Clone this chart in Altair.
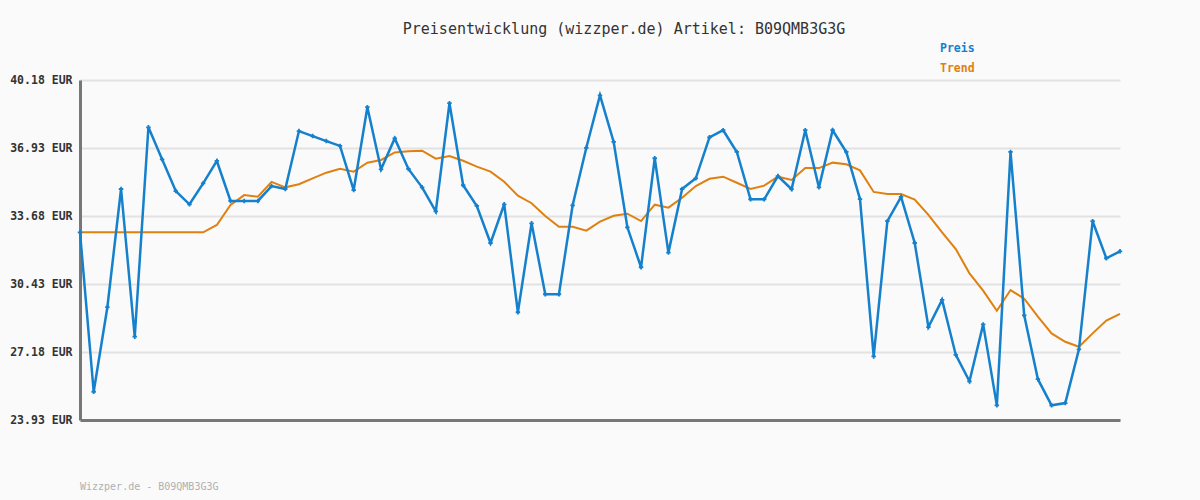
import altair as alt
import pandas as pd

preis = [32.90, 25.28, 29.32, 34.97, 27.91, 37.92, 36.39, 34.87, 34.24, 35.24,
         36.31, 34.40, 34.40, 34.40, 35.11, 34.97, 37.74, 37.50, 37.26, 37.03,
         34.92, 38.88, 35.91, 37.39, 35.93, 35.05, 33.90, 39.07, 35.15, 34.16,
         32.39, 34.24, 29.08, 33.33, 29.94, 29.94, 34.19, 36.94, 39.45, 37.22,
         33.14, 31.23, 36.44, 31.93, 34.97, 35.48, 37.44, 37.78, 36.74, 34.48,
         34.48, 35.59, 34.96, 37.78, 35.05, 37.78, 36.74, 34.49, 26.97, 33.43,
         34.59, 32.39, 28.37, 29.67, 27.04, 25.78, 28.50, 24.63, 36.74, 28.93,
         25.88, 24.63, 24.74, 27.31, 33.43, 31.66, 31.99]
trend = [32.90, 32.90, 32.90, 32.90, 32.90, 32.90, 32.90, 32.90, 32.90, 32.90,
         33.25, 34.21, 34.68, 34.60, 35.31, 35.05, 35.20, 35.48, 35.75, 35.94,
         35.80, 36.23, 36.36, 36.72, 36.77, 36.80, 36.42, 36.55, 36.32, 36.04,
         35.80, 35.32, 34.65, 34.29, 33.68, 33.17, 33.17, 32.98, 33.41, 33.69,
         33.79, 33.44, 34.22, 34.08, 34.55, 35.11, 35.46, 35.56, 35.27, 34.97,
         35.13, 35.56, 35.40, 35.97, 35.97, 36.23, 36.15, 35.86, 34.83, 34.73,
         34.73, 34.47, 33.73, 32.90, 32.10, 30.94, 30.11, 29.15, 30.14, 29.73,
         28.87, 28.07, 27.67, 27.43, 28.07, 28.68, 29.00]
y_ticks = [23.93, 27.18, 30.43, 33.68, 36.93, 40.18]
legend_names = ["Preis", "Trend"]
legend_colors = ["#1580cc", "#e08010"]
title_text = "Preisentwicklung (wizzper.de) Artikel: B09QMB3G3G"
footer_text = "Wizzper.de - B09QMB3G3G"

df = pd.DataFrame({"i": list(range(len(preis))), "preis": preis, "trend": trend})

x_enc = alt.X("i:Q", scale=alt.Scale(domain=[0, len(preis) - 1], nice=False, zero=False),
              axis=alt.Axis(title=None, labels=False, ticks=False, grid=False,
                            domainColor="#777777", domainWidth=3))
y_scale = alt.Scale(domain=[y_ticks[0], y_ticks[-1]], nice=False, zero=False)
y_axis = alt.Axis(title=None, values=y_ticks, labelExpr="format(datum.value, '.2f') + ' EUR'",
                  ticks=False, grid=True, gridColor="#e2e2e2", gridWidth=2,
                  domainColor="#777777", domainWidth=3, labelPadding=8,
                  labelFont="DejaVu Sans Mono", labelFontSize=11.5, labelFontWeight="bold",
                  labelColor="#333333")

base = alt.Chart(df)
trend_line = base.mark_line(color=legend_colors[1], strokeWidth=2).encode(
    x=x_enc, y=alt.Y("trend:Q", scale=y_scale, axis=y_axis))
preis_line = base.mark_line(color=legend_colors[0], strokeWidth=2.5).encode(
    x="i:Q", y=alt.Y("preis:Q", scale=y_scale))
preis_pts = base.mark_point(color=legend_colors[0], shape="cross", filled=True, size=20, opacity=1).encode(
    x="i:Q", y=alt.Y("preis:Q", scale=y_scale))

leg_df = pd.DataFrame({"name": legend_names, "color": legend_colors, "row": [0, 1]})
legend = alt.Chart(leg_df).mark_text(align="left", baseline="middle", font="DejaVu Sans Mono",
                                     fontSize=11.5, fontWeight="bold").transform_calculate(
    ypix="-31 + datum.row * 20").encode(
    x=alt.value(860),
    y=alt.Y("ypix:Q", scale=None),
    text="name:N",
    color=alt.Color("color:N", scale=None))

title = alt.Chart(pd.DataFrame({"t": [title_text]})).mark_text(
    align="center", baseline="middle", font="DejaVu Sans Mono", fontSize=15, color="#333333").encode(
    x=alt.value(544), y=alt.value(-51), text="t:N")

footer = alt.Chart(pd.DataFrame({"t": [footer_text]})).mark_text(
    align="left", baseline="middle", font="DejaVu Sans Mono", fontSize=10, color="#b0b0b0").encode(
    x=alt.value(0), y=alt.value(407), text="t:N")

chart = alt.layer(trend_line, preis_line, preis_pts, legend, title, footer).properties(
    width=1040, height=340,
    autosize="none",
    padding={"left": 80, "top": 80, "right": 80, "bottom": 80},
    background="#fafafa",
).configure_view(stroke=None)

chart.save("out.html", embed_options={"renderer": "svg", "actions": False})
